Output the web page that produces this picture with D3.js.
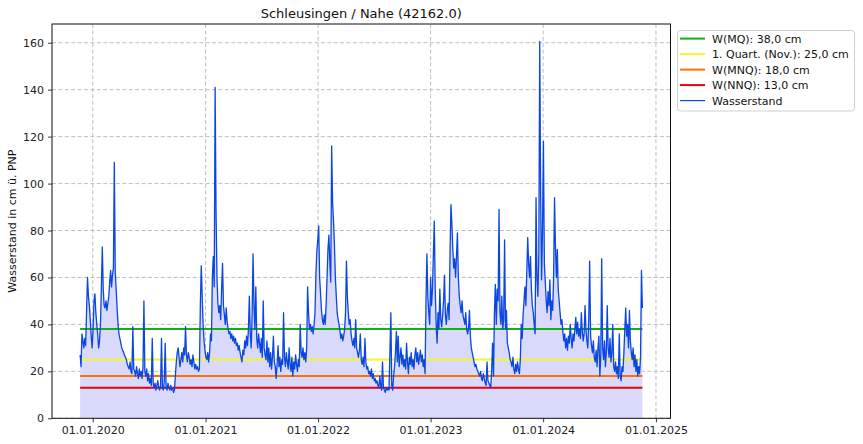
<!DOCTYPE html>
<html>
<head>
<meta charset="utf-8">
<script src="https://cdn.jsdelivr.net/npm/d3@7"></script>
<style>
  html, body { margin: 0; padding: 0; background: #fff; }
  svg { display: block; font-family: "DejaVu Sans", sans-serif; }
</style>
</head>
<body>
<svg id="chart" width="863" height="444"></svg>
<script>
// ---------------- DATA ----------------
const chartTitle = "Schleusingen / Nahe (42162.0)";
const yAxisLabel = "Wasserstand in cm ü. PNP";
const seriesName = "Wasserstand";
const seriesStart = "2019-11-21";
const seriesStepDays = 3;
const waterLevels = [
  27, 22, 36, 33, 30, 34, 31, 46, 60, 52,
  48, 42, 35, 30, 38, 50, 53, 45, 40, 36,
  30, 33, 40, 56, 73, 55, 48, 47, 50, 46,
  49, 52, 58, 63, 56, 61, 64, 109, 62, 55,
  47, 40, 36, 34, 32, 30, 29, 28, 27, 26,
  25, 23, 22, 21, 24, 20, 19, 39, 21, 20,
  18, 22, 19, 17, 21, 18, 20, 17, 22, 50,
  20, 18, 21, 16, 19, 15, 17, 14, 34, 15,
  13, 15, 12, 14, 16, 13, 12, 14, 34, 13,
  12, 16, 32, 13, 12, 15, 13, 12, 14, 12,
  13, 11, 12, 18, 24, 28, 30, 26, 22, 25,
  28, 24, 30, 27, 39, 27, 24, 28, 26, 23,
  25, 22, 27, 24, 21, 23, 21, 22, 20, 21,
  48, 65, 52, 40, 33, 29, 26, 25, 28, 24,
  28, 36, 33, 60, 69, 56, 141, 87, 60, 49,
  45, 48, 42, 55, 66, 48, 44, 40, 47, 41,
  38, 36, 37, 34, 36, 33, 35, 32, 34, 31,
  32, 29, 31, 28, 26, 24, 29, 27, 33, 30,
  35, 31, 38, 52, 36, 30, 44, 70, 48, 38,
  56, 34, 30, 36, 32, 28, 34, 26, 50, 30,
  27, 25, 33, 24, 30, 22, 28, 21, 26, 35,
  24, 22, 17, 23, 31, 22, 26, 20, 25, 23,
  45, 26, 22, 28, 24, 21, 30, 23, 20, 26,
  18, 24, 21, 27, 23, 20, 25, 22, 40, 28,
  26, 30, 25, 28, 24, 30, 56, 45, 38, 40,
  37, 39, 36, 40, 45, 62, 71, 76, 82, 60,
  53, 46, 42, 40, 44, 40, 48, 60, 72, 78,
  67, 58, 116, 92, 84, 74, 60, 52, 45, 42,
  40, 37, 34, 36, 33, 35, 38, 45, 67, 52,
  45, 40, 42, 36, 33, 31, 34, 30, 42, 30,
  28, 26, 29, 36, 25, 23, 26, 22, 34, 24,
  21, 22, 19, 20, 18, 21, 17, 19, 16, 17,
  15, 16, 14, 13, 18, 14, 12, 24, 13, 12,
  11, 13, 12, 13, 12, 28, 45, 14, 12, 18,
  22, 28, 37, 24, 35, 22, 26, 30, 23, 27,
  22, 25, 21, 32, 24, 19, 26, 23, 28, 22,
  25, 21, 27, 30, 24, 28, 23, 26, 29, 24,
  27, 22, 25, 19, 50, 70, 52, 45, 40, 60,
  48, 55, 70, 84, 55, 40, 32, 45, 38, 55,
  42, 39, 44, 50, 61, 44, 40, 46, 49, 42,
  70, 91, 83, 72, 64, 68, 60, 69, 79, 60,
  52, 48, 45, 50, 44, 42, 40, 45, 38, 36,
  38, 46, 35, 30, 28, 26, 24, 22, 23, 21,
  20, 19, 18, 20, 17, 16, 19, 17, 15, 14,
  24, 16, 15, 14, 13, 20, 32, 18, 45, 57,
  40, 55, 50, 89, 45, 40, 52, 38, 42, 76,
  38, 46, 32, 30, 28, 25, 24, 22, 26, 21,
  19, 23, 20, 24, 21, 19, 25, 40, 34, 44,
  50, 56, 48, 62, 77, 66, 60, 69, 55, 48,
  45, 40, 36, 94, 60, 52, 70, 160.5, 94, 59,
  80, 118, 66, 58, 50, 45, 54, 48, 59, 42,
  50, 46, 60, 94, 73, 60, 72, 55, 50, 45,
  40, 42, 37, 33, 36, 30, 34, 29, 35, 32,
  40, 34, 30, 36, 33, 38, 43, 36, 41, 35,
  38, 34, 45, 37, 33, 36, 48, 38, 33, 30,
  42, 67, 35, 31, 28, 33, 26, 24, 29, 22,
  30, 35, 18, 26, 68, 30, 25, 33, 22, 28,
  48, 30, 26, 34, 24, 28, 40, 22, 20, 24,
  19, 22, 17, 36, 18, 16, 22, 20, 28, 38,
  47, 35, 40, 30, 46, 33, 28, 25, 30, 22,
  27, 20, 25, 18, 22, 19, 26, 63, 47
];
const thresholdNames = ["W(MQ): 38,0 cm", "1. Quart. (Nov.): 25,0 cm", "W(MNQ): 18,0 cm", "W(NNQ): 13,0 cm"];
const thresholdValues = [38, 25, 18, 13];
const yTickValues = [0, 20, 40, 60, 80, 100, 120, 140, 160];
const xTickDates = ["2020-01-01", "2021-01-01", "2022-01-01", "2023-01-01", "2024-01-01", "2025-01-01"];

// ---------------- STYLE ----------------
const thresholdColors = ["#12b012", "#f6f62c", "#ff7000", "#e30010"];
const seriesColor = "#0a46e0";
const fillColor = "#d9d9fb";
const gridColor = "#b8b8b8";

// ---------------- LAYOUT ----------------
const svg = d3.select("#chart");
const M = { left: 52, right: 670.5, top: 24, bottom: 418.3 };

const parse = d3.utcParse("%Y-%m-%d");
const t0 = parse(seriesStart);
const data = waterLevels.map((v, i) => ({ date: d3.utcDay.offset(t0, i * seriesStepDays), value: v }));
const ext = d3.extent(data, d => d.date);
const span = ext[1] - ext[0];
const x = d3.scaleUtc()
  .domain([new Date(+ext[0] - span * 0.05), new Date(+ext[1] + span * 0.05)])
  .range([M.left, M.right]);
const yMax = d3.max(waterLevels);
const yMin = d3.min(waterLevels);
const y = d3.scaleLinear()
  .domain([0, yMax + (yMax - yMin) * 0.05])
  .range([M.bottom, M.top]);

// Grid
const xTicks = xTickDates.map(parse);
const grid = svg.append("g");
grid.selectAll("line.gx").data(xTicks).join("line")
  .attr("x1", d => x(d)).attr("x2", d => x(d))
  .attr("y1", M.top).attr("y2", M.bottom)
  .attr("stroke", gridColor).attr("stroke-width", 0.9).attr("stroke-dasharray", "4,2.4");
grid.selectAll("line.gy").data(yTickValues).join("line")
  .attr("x1", M.left).attr("x2", M.right)
  .attr("y1", d => y(d)).attr("y2", d => y(d))
  .attr("stroke", gridColor).attr("stroke-width", 0.9).attr("stroke-dasharray", "4,2.4");

// Area fill
const area = d3.area().x(d => x(d.date)).y0(y(0)).y1(d => y(d.value));
svg.append("path").datum(data).attr("d", area).attr("fill", fillColor).attr("stroke", "none");

// Threshold lines
svg.append("g").selectAll("line").data(thresholdValues).join("line")
  .attr("x1", x(ext[0])).attr("x2", x(ext[1]))
  .attr("y1", d => y(d)).attr("y2", d => y(d))
  .attr("stroke", (d, i) => thresholdColors[i]).attr("stroke-width", 2);

// Series line
const line = d3.line().x(d => x(d.date)).y(d => y(d.value));
svg.append("path").datum(data).attr("d", line)
  .attr("fill", "none").attr("stroke", seriesColor).attr("stroke-width", 1.3)
  .attr("stroke-linejoin", "round");

// Axes
const xAxis = d3.axisBottom(x).tickValues(xTicks).tickFormat(d3.utcFormat("%d.%m.%Y")).tickSize(4).tickPadding(4);
const gx = svg.append("g").attr("transform", `translate(0,${M.bottom})`).call(xAxis);
const yAxis = d3.axisLeft(y).tickValues(yTickValues).tickFormat(d3.format("d")).tickSize(4).tickPadding(4);
const gy = svg.append("g").attr("transform", `translate(${M.left},0)`).call(yAxis);
[gx, gy].forEach(g => {
  g.select(".domain").remove();
  g.selectAll("text").attr("font-size", 11).attr("fill", "#222").attr("font-family", "DejaVu Sans");
  g.selectAll("line").attr("stroke", "#222").attr("stroke-width", 0.9);
});

// Frame
svg.append("rect").attr("x", M.left).attr("y", M.top)
  .attr("width", M.right - M.left).attr("height", M.bottom - M.top)
  .attr("fill", "none").attr("stroke", "#111").attr("stroke-width", 1);

// Title & labels
svg.append("text").attr("x", (M.left + M.right) / 2).attr("y", 18.3)
  .attr("text-anchor", "middle").attr("font-size", 13).attr("fill", "#111").text(chartTitle);
svg.append("text").attr("transform", `translate(15.5,${(M.top + M.bottom) / 2}) rotate(-90)`)
  .attr("text-anchor", "middle").attr("font-size", 11).attr("fill", "#111").text(yAxisLabel);

// Legend
const legendItems = thresholdNames.map((n, i) => ({ name: n, color: thresholdColors[i], w: 2 }))
  .concat([{ name: seriesName, color: seriesColor, w: 1.2 }]);
const lg = svg.append("g");
lg.append("rect").attr("x", 677.5).attr("y", 30.5).attr("width", 177).attr("height", 80.5)
  .attr("rx", 3).attr("fill", "#fff").attr("fill-opacity", 0.85).attr("stroke", "#d0d0d0").attr("stroke-width", 1);
const rows = lg.selectAll("g.item").data(legendItems).join("g")
  .attr("transform", (d, i) => `translate(0,${38.6 + i * 15.5})`);
rows.append("line").attr("x1", 680).attr("x2", 705).attr("y1", 0).attr("y2", 0)
  .attr("stroke", d => d.color).attr("stroke-width", d => d.w);
rows.append("text").attr("x", 712).attr("y", 0).attr("dy", "0.36em")
  .attr("font-size", 11).attr("fill", "#111").text(d => d.name);
</script>
</body>
</html>
